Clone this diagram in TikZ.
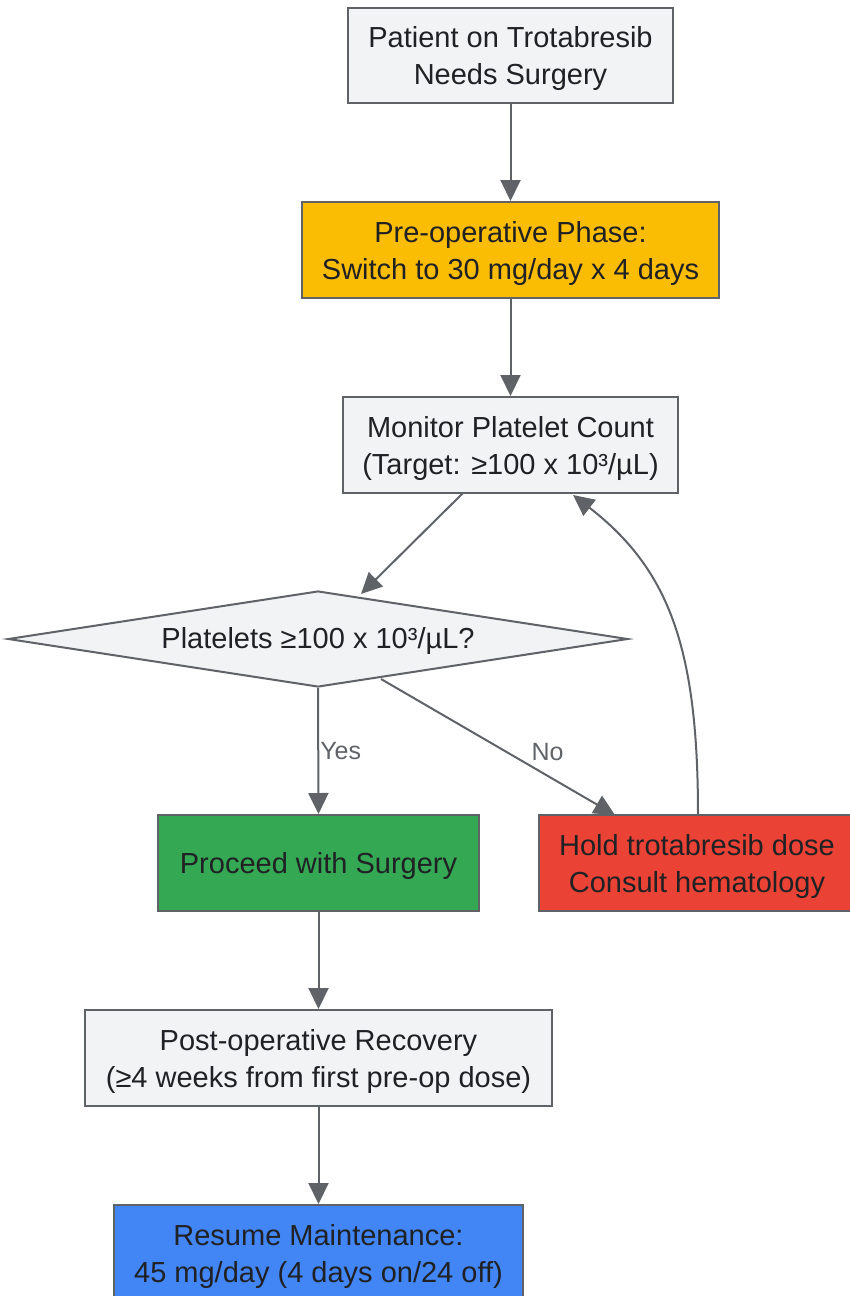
\documentclass[tikz,border=0pt]{standalone}
\usepackage{fontspec}
\setmainfont{Liberation Sans}
\usetikzlibrary{arrows.meta,shapes.geometric}
\definecolor{boxgray}{HTML}{F1F3F4}
\definecolor{linegray}{HTML}{5F6368}
\definecolor{txt}{HTML}{202124}
\definecolor{gyellow}{HTML}{FBBC04}
\definecolor{ggreen}{HTML}{34A853}
\definecolor{gred}{HTML}{EA4335}
\definecolor{gblue}{HTML}{4285F4}
\tikzset{
  box/.style={draw=linegray, line width=2pt, fill=boxgray, text=txt, align=center,
    font=\fontsize{29}{37}\selectfont, inner sep=0pt, text depth=0pt},
  conn/.style={draw=linegray, line width=2pt, -{Triangle[length=21pt,width=20pt]}},
  lbl/.style={text=linegray, font=\fontsize{25}{28}\selectfont, inner sep=0pt}
}
\begin{document}
\begin{tikzpicture}[x=1pt,y=-1pt]
\useasboundingbox (0,0) rectangle (849,1296);
\node[box, minimum width=325pt, minimum height=95pt] (a) at (510.5,55.5) {Patient on Trotabresib\\Needs Surgery};
\node[box, fill=gyellow, minimum width=417pt, minimum height=96pt] (b) at (510.5,250) {Pre-operative Phase:\\Switch to 30 mg/day x 4 days};
\node[box, minimum width=335pt, minimum height=96pt] (c) at (510.5,445) {Monitor Platelet Count\\(Target: ≥100 x 10³/µL)};
\node[draw=linegray, line width=2pt, fill=boxgray, diamond, aspect=6.46, minimum width=620pt, minimum height=96pt, inner sep=0pt] (d) at (318,639) {};
\node[text=txt, font=\fontsize{29}{37}\selectfont, inner sep=0pt] (dt) at (318,640.5) {Platelets ≥100 x 10³/µL?};
\node[box, fill=ggreen, minimum width=321pt, minimum height=96pt] (e) at (318.5,863) {Proceed with Surgery};
\node[box, fill=gred, minimum width=316pt, minimum height=96pt] (f) at (697,863) {Hold trotabresib dose\\Consult hematology};
\node[box, minimum width=467pt, minimum height=96pt] (g) at (318.5,1058) {Post-operative Recovery\\(≥4 weeks from first pre-op dose)};
\node[box, fill=gblue, minimum width=409pt, minimum height=96pt] (h) at (318.5,1253) {Resume Maintenance:\\45 mg/day (4 days on/24 off)};
\coordinate (cb) at (463,493);
\coordinate (dtop) at (361,594);
\coordinate (dno) at (381,679);
\coordinate (fno) at (615,815);
\coordinate (ftop) at (698,815);
\coordinate (cr) at (573,495);
\draw[conn] (a.south) -- (b.north);
\draw[conn] (b.south) -- (c.north);
\draw[conn] (cb) -- (dtop);
\draw[conn] (d.south) -- node[lbl, pos=0.5, anchor=west, xshift=1pt] {Yes} (e.north);
\draw[conn] (dno) -- node[lbl, pos=0.537, xshift=41pt] {No} (fno);
\draw[conn] (ftop) .. controls (698,650) and (670,570) .. (cr);
\draw[conn] (e.south) -- (g.north);
\draw[conn] (g.south) -- (h.north);
\end{tikzpicture}
\end{document}
